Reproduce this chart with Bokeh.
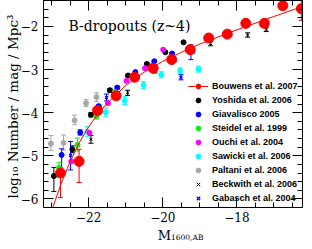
import numpy as np
from bokeh.plotting import figure
from bokeh.models import (Range1d, LinearAxis, SingleIntervalTicker, Whisker, TeeHead,
                          ColumnDataSource, Label, Legend, LegendItem)
from bokeh.embed import file_html
from bokeh.resources import INLINE

# ---------------- data ----------------
bouwens_M = [-22.76, -22.26, -21.76, -21.26, -20.76, -20.26, -19.76, -19.26, -18.76, -18.26, -17.76, -17.26, -16.76, -16.26]
bouwens_phi = [-5.40, -5.13, -3.95, -3.61, -3.18, -2.97, -2.77, -2.54, -2.27, -2.18, -1.93, -1.93, -1.52, -1.59]
bouwens_up = [-5.28, -4.85, -3.88, -3.56, -3.14, -2.94, -2.74, -2.51, -2.23, -2.13, -1.88, -1.87, -1.45, -1.39]
bouwens_lo = [-5.97, -5.62, -4.04, -3.67, -3.22, -3.00, -2.80, -2.57, -2.31, -2.23, -1.98, -2.00, -1.60, -1.86]

fit_M = [-22.97, -22.9, -22.75, -22.5, -22.25, -22.0, -21.75, -21.5, -21.0, -20.75, -20.5, -20.0, -19.5, -19.0, -18.0, -17.0, -16.2]
fit_phi = [-6.20, -6.03, -5.66, -5.13, -4.69, -4.33, -4.03, -3.78, -3.37, -3.21, -3.06, -2.81, -2.60, -2.41, -2.08, -1.77, -1.53]

yoshida_M = [-22.94, -22.44, -21.94, -21.43, -20.94, -20.43, -19.93, -19.44]
yoshida_phi = [-5.47, -4.85, -4.05, -3.48, -3.14, -2.87, -2.60, -2.37]
yoshida_up = [-5.27, -4.77, -4.00, -3.44, -3.11, -2.85, -2.58, -2.35]
yoshida_lo = [-5.83, -4.93, -4.10, -3.52, -3.17, -2.89, -2.62, -2.39]

giav_M = [-22.73, -22.23, -21.73, -21.23, -20.74, -20.23, -19.75]
giav_phi = [-4.98, -4.46, -3.85, -3.42, -3.06, -2.81, -2.63]
giav_up = [-4.84, -4.40, -3.81, -3.39, -3.04, -2.79, -2.61]
giav_lo = [-5.34, -4.52, -3.89, -3.45, -3.08, -2.83, -2.65]

steidel_M = [-22.80, -22.30, -21.79, -21.29]
steidel_phi = [-5.28, -4.75, -4.08, -3.52]
steidel_up = [-5.16, -4.59, -4.02, -3.47]
steidel_lo = [-5.50, -4.89, -4.15, -3.58]

ouchi_M = [-22.47, -21.98, -21.48, -20.98, -20.48, -19.99]
ouchi_phi = [-5.13, -4.47, -3.78, -3.26, -2.97, -2.54]

sawicki_M = [-22.04, -21.54, -21.03, -20.52, -20.04, -19.53, -19.04]
sawicki_phi = [-4.44, -3.99, -3.72, -3.36, -3.12, -3.03, -2.99]
sawicki_up = [-4.32, -3.89, -3.63, -3.28, -3.05, -2.96, -2.92]
sawicki_lo = [-4.56, -4.10, -3.81, -3.44, -3.19, -3.10, -3.06]

paltani_M = [-23.02, -22.68, -22.38, -22.07, -21.79]
paltani_phi = [-4.72, -4.70, -4.18, -3.78, -3.64]
paltani_up = [-4.53, -4.52, -4.06, -3.70, -3.54]
paltani_lo = [-4.88, -4.87, -4.28, -3.86, -3.74]

beck_M = [-21.94, -20.95, -20.21, -19.70, -19.20, -18.71, -18.22, -17.71, -17.21]
beck_phi = [-4.62, -3.54, -3.03, -2.78, -2.57, -2.40, -2.20, -2.20, -2.07]
beck_up = [-4.53, -3.48, -2.98, -2.73, -2.52, -2.35, -2.15, -2.15, -2.02]
beck_lo = [-4.71, -3.60, -3.08, -2.83, -2.62, -2.45, -2.25, -2.25, -2.12]

gab_M = [-22.49, -21.52, -19.51, -19.24]
gab_phi = [-4.99, -3.65, -3.18, -2.62]
gab_up = [-4.67, -3.57, -3.12, -2.43]
gab_lo = [-5.33, -3.73, -3.24, -2.77]

x_ticks = [-22, -20, -18]
y_ticks = [-6, -5, -4, -3, -2]

# ---------------- figure geometry ----------------
XMIN, XMAX = -23.22, -16.23
YMIN, YMAX = -6.2, -1.4          # the drawn box
W, H = 304, 241
BL, BR = 43, 2
BOX_BOTTOM = 207                  # pixel row of the box bottom
ky = BOX_BOTTOM / (YMAX - YMIN)   # pixels per data unit (y)
YLOW = YMIN - (H - BOX_BOTTOM) / ky   # frame reaches the canvas bottom
ux = (XMAX - XMIN) / (W - BL - BR)
uy = 1.0 / ky

p = figure(width=W, height=H, x_range=Range1d(XMIN, XMAX), y_range=Range1d(YLOW, YMAX),
           output_backend="svg", toolbar_location=None,
           x_axis_location=None, y_axis_location=None,
           min_border_left=BL, min_border_right=BR, min_border_top=0, min_border_bottom=0)
p.grid.visible = False
p.outline_line_color = None
p.background_fill_color = "white"
p.border_fill_color = "white"

SERIF = "DejaVu Serif"

def make_axis(kind, labels, **kw):
    if kind == "x":
        ax = LinearAxis(ticker=SingleIntervalTicker(interval=2, num_minor_ticks=4), **kw)
        if labels:
            ax.major_label_overrides = {t: "\u2212%d" % abs(t) for t in x_ticks}
    else:
        ax = LinearAxis(ticker=SingleIntervalTicker(interval=1, num_minor_ticks=5),
                        bounds=(YMIN, YMAX), **kw)
        if labels:
            ax.major_label_overrides = {t: "\u2212%d" % abs(t) for t in y_ticks}
    ax.major_tick_in = 10
    ax.major_tick_out = 0
    ax.minor_tick_in = 5
    ax.minor_tick_out = 0
    ax.axis_line_color = "black"
    ax.axis_line_width = 1
    ax.major_tick_line_color = "black"
    ax.minor_tick_line_color = "black"
    if labels:
        ax.major_label_text_font = SERIF
        ax.major_label_text_font_size = "12px"
        ax.major_label_text_color = "black"
        ax.major_label_standoff = 4 if kind == "x" else 5
    else:
        ax.major_label_text_font_size = "0px"
        ax.major_label_text_color = None
        ax.major_label_standoff = 0
    return ax

p.add_layout(make_axis("x", True, fixed_location=YMIN), "below")
p.add_layout(make_axis("x", False), "above")
p.add_layout(make_axis("y", True), "left")
p.add_layout(make_axis("y", False), "right")

def errbars(M, up, lo, color):
    src = ColumnDataSource(dict(x=M, up=up, lo=lo))
    w = Whisker(source=src, base="x", upper="up", lower="lo", dimension="height",
                line_color=color, line_width=1,
                upper_head=TeeHead(size=5, line_color=color, line_width=1),
                lower_head=TeeHead(size=5, line_color=color, line_width=1))
    p.add_layout(w)

RED = "#ff0000"
BLUE = "#0000ff"
GREEN = "#11ee11"
MAG = "#ff00ff"
CYAN = "#00ffff"
GRAY = "#a8a8a8"

errbars(paltani_M, paltani_up, paltani_lo, GRAY)
r_pal = p.scatter(paltani_M, paltani_phi, size=5, color=GRAY)
errbars(sawicki_M, sawicki_up, sawicki_lo, CYAN)
r_saw = p.scatter(sawicki_M, sawicki_phi, size=5, color=CYAN)
errbars(yoshida_M, yoshida_up, yoshida_lo, "black")
r_yos = p.scatter(yoshida_M, yoshida_phi, size=5, color="black")
errbars(giav_M, giav_up, giav_lo, BLUE)
r_gia = p.scatter(giav_M, giav_phi, size=5, color=BLUE)
errbars(steidel_M, steidel_up, steidel_lo, GREEN)
r_ste = p.scatter(steidel_M, steidel_phi, size=5, color=GREEN)
r_ouc = p.scatter(ouchi_M, ouchi_phi, size=5, color=MAG)
errbars(beck_M, beck_up, beck_lo, "black")
r_bec = p.scatter(beck_M, beck_phi, marker="x", size=4, line_color="black", line_width=1)
errbars(gab_M, gab_up, gab_lo, BLUE)
r_gab = p.scatter(gab_M, gab_phi, marker="x", size=4, line_color=BLUE, line_width=1.3)

r_fit = p.line(fit_M, fit_phi, line_color=RED, line_width=1)
errbars(bouwens_M, bouwens_up, bouwens_lo, RED)
r_bou = p.scatter(bouwens_M, bouwens_phi, size=10, color=RED)

legend = Legend(items=[
    LegendItem(label="Bouwens et al. 2007", renderers=[r_fit, r_bou]),
    LegendItem(label="Yoshida et al. 2006", renderers=[r_yos]),
    LegendItem(label="Giavalisco 2005", renderers=[r_gia]),
    LegendItem(label="Steidel et al. 1999", renderers=[r_ste]),
    LegendItem(label="Ouchi et al. 2004", renderers=[r_ouc]),
    LegendItem(label="Sawicki et al. 2006", renderers=[r_saw]),
    LegendItem(label="Paltani et al. 2006", renderers=[r_pal]),
    LegendItem(label="Beckwith et al. 2006", renderers=[r_bec]),
    LegendItem(label="Gabasch et al. 2004", renderers=[r_gab]),
], location=(145, H - BOX_BOTTOM + 3))
legend.background_fill_alpha = 0
legend.border_line_color = None
legend.padding = 0
legend.margin = 0
legend.spacing = 2
legend.glyph_width = 20
legend.glyph_height = 12
legend.label_height = 12
legend.label_standoff = 4
legend.label_text_font = "Liberation Sans"
legend.label_text_font_style = "bold"
legend.label_text_font_size = "9px"
legend.label_text_color = "black"
p.add_layout(legend, "center")

# title inside the box
p.add_layout(Label(x=XMIN + 25 * ux, y=YMAX - 25 * uy, text="B-dropouts (z~4)", text_font=SERIF,
                   text_font_size="14px", text_align="left", text_baseline="middle",
                   text_color="black"))

# x-axis label (M with subscript) below the box, inside the frame area
XL = (XMIN + XMAX) / 2 - 2 * ux
p.add_layout(Label(x=XL, y=YMIN - 27.5 * uy, text="M", text_font=SERIF,
                   text_font_size="13px", text_align="right", text_baseline="alphabetic",
                   text_color="black"))
p.add_layout(Label(x=XL, y=YMIN - 29.5 * uy, text="1600,AB", text_font=SERIF,
                   text_font_size="7.5px", text_align="left", text_baseline="alphabetic",
                   text_color="black"))

# y-axis label in the left panel
p.add_layout(Label(x=XMIN - 31 * ux, y=YMAX - 106 * uy,
                   text="log\u2081\u2080 Number / mag / Mpc\u00b3", angle=np.pi / 2,
                   text_font=SERIF, text_font_size="13.5px", text_align="center",
                   text_baseline="middle", text_color="black"), "left")

open("out.html", "w").write(file_html(p, INLINE))
